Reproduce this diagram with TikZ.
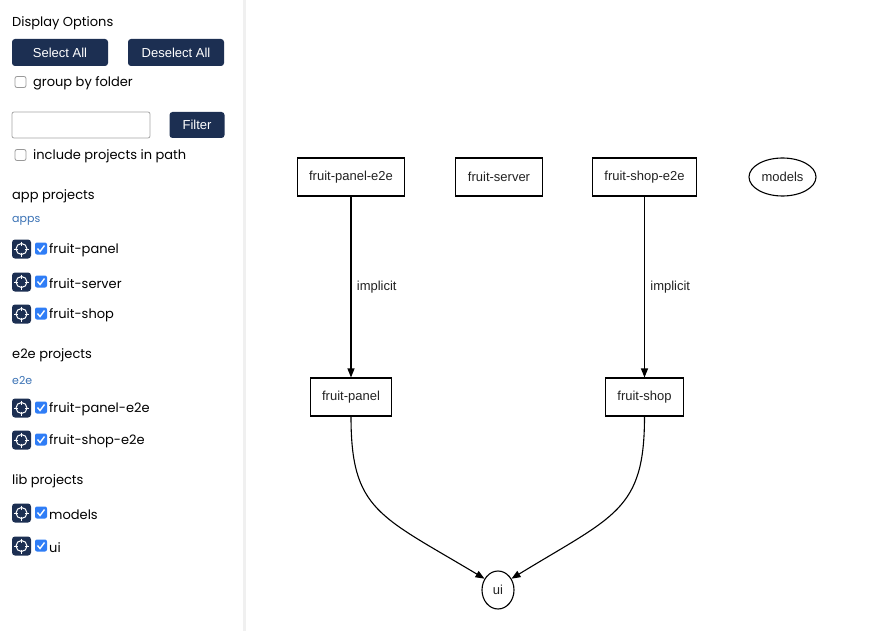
\documentclass[tikz,border=0pt]{standalone}
\usepackage{fontspec}
\setmainfont{Liberation Sans}
\newfontfamily\sidefont{Poppins}
\usetikzlibrary{shapes.geometric, arrows.meta}

\definecolor{navy}{HTML}{1C2F52}
\definecolor{linkblue}{HTML}{3A72B5}
\definecolor{tickblue}{HTML}{2F7DF6}
\definecolor{inkgray}{HTML}{222222}

\begin{document}
\begin{tikzpicture}[x=1pt, y=-1pt,
	proj/.style={draw, rectangle, line width=1.1pt, inner xsep=12pt, minimum height=38pt, text=inkgray, font=\fontsize{13}{15}\selectfont},
	lib/.style={draw, ellipse, line width=1.1pt, inner sep=0pt, minimum height=38pt, text=inkgray, font=\fontsize{13}{15}\selectfont},
	edge/.style={line width=1.1pt, ->, >={Triangle[length=9pt, width=7pt]}},
	btn/.style={fill=navy, text=white, rounded corners=3pt, font=\fontsize{13}{15}\selectfont},
	side/.style={anchor=west, inner sep=0pt, yshift=-1.5pt, font=\sidefont\fontsize{13}{15}\selectfont},
	unbox/.style={draw=gray!80, fill=white, rounded corners=2pt, line width=0.8pt}]
	\useasboundingbox (0,0) rectangle (880,631);
	\fill[white] (0,0) rectangle (880,631);
	\fill[gray!12] (243,0) rectangle (245.5,631);

	% sidebar
	\node[side] (title) at (12,22) {Display Options};
	\node[btn, minimum width=96pt, minimum height=27pt] (selall) at (60,52.5) {Select All};
	\node[btn, minimum width=96pt, minimum height=27pt] (deselall) at (176,52.5) {Deselect All};
	\draw[unbox] (15,76.5) rectangle (26,87.5);
	\node[side] (group) at (33,82) {group by folder};
	\draw[gray!70, rounded corners=2pt, line width=0.8pt] (12,112) rectangle (150,138);
	\node[btn, minimum width=55pt, minimum height=26pt] (filter) at (197,125) {Filter};
	\draw[unbox] (15,149.5) rectangle (26,160.5);
	\node[side] (incl) at (33,155) {include projects in path};

	\node[side] (apphead) at (12,195) {app projects};
	\node[side, text=linkblue, font=\sidefont\fontsize{11}{13}\selectfont] (apps) at (12,219.5) {apps};
	\node[side] (e2ehead) at (12,354) {e2e projects};
	\node[side, text=linkblue, font=\sidefont\fontsize{11}{13}\selectfont] (e2e) at (12,379) {e2e};
	\node[side] (libhead) at (12,480) {lib projects};

	\foreach \name/\y in {fruit-panel/249, fruit-server/282, fruit-shop/314, fruit-panel-e2e/408, fruit-shop-e2e/440, models/513, ui/546} {
		\fill[navy, rounded corners=3pt] (12,\y-9.5) rectangle (31,\y+9.5);
		\draw[white, line width=1pt] (21.5,\y) circle (5.5pt);
		\draw[white, line width=1pt] (21.5,\y-7.5) -- (21.5,\y-3.5) (21.5,\y+3.5) -- (21.5,\y+7.5)
			(14,\y) -- (18,\y) (25,\y) -- (29,\y);
		\fill[tickblue, rounded corners=2pt] (35,\y-6.5) rectangle (47,\y+5.5);
		\draw[white, line width=1.4pt] (37.5,\y-0.5) -- (40,\y+2.5) -- (44.5,\y-3.5);
		\node[side] (row-\name) at (49,\y) {\name};
	}

	% graph
	\node[proj] (fpe2e) at (351,177) {fruit-panel-e2e};
	\node[proj] (fserver) at (499,177) {fruit-server};
	\node[proj] (fse2e) at (644.5,177) {fruit-shop-e2e};
	\node[lib, minimum width=67pt] (models) at (782.5,177) {models};
	\node[proj] (fpanel) at (351,397) {fruit-panel};
	\node[proj] (fshop) at (644.5,397) {fruit-shop};
	\node[lib, minimum width=32pt] (ui) at (498,590) {ui};

	\draw[edge] (fpe2e) -- node[right, xshift=2pt, text=inkgray, font=\fontsize{13}{15}\selectfont] {implicit} (fpanel);
	\draw[edge] (fse2e) -- node[right, xshift=2pt, text=inkgray, font=\fontsize{13}{15}\selectfont] {implicit} (fshop);
	\draw[edge] (fpanel.south) .. controls +(0,94) and +(-105,-63) .. (ui.140);
	\draw[edge] (fshop.south) .. controls +(0,94) and +(103,-63) .. (ui.40);
\end{tikzpicture}
\end{document}
